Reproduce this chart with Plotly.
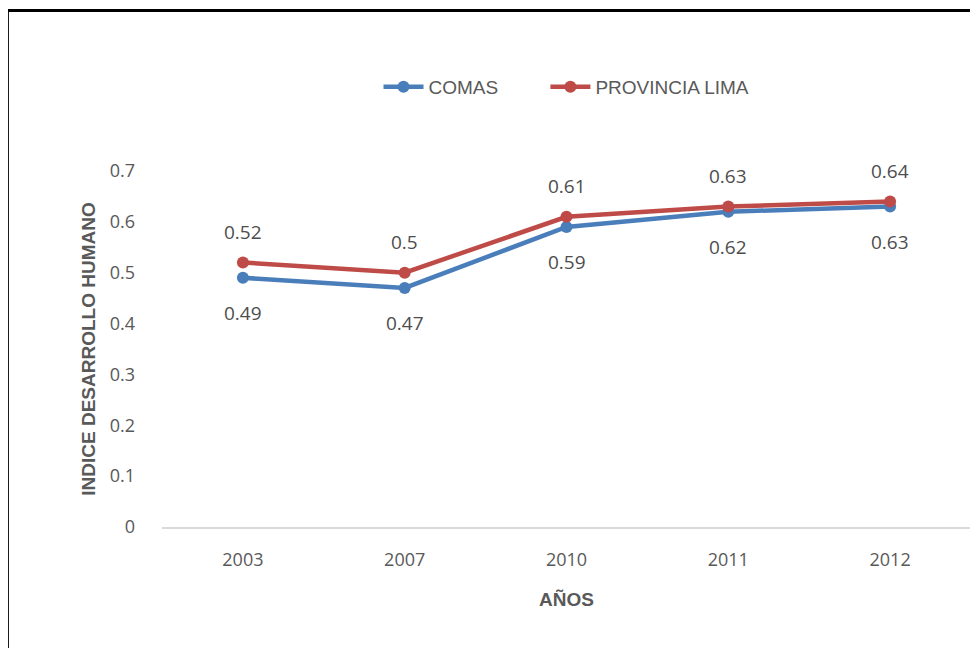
import plotly.graph_objects as go

years = ["2003", "2007", "2010", "2011", "2012"]
comas = [0.49, 0.47, 0.59, 0.62, 0.63]
lima = [0.52, 0.50, 0.61, 0.63, 0.64]
y_ticks = [0, 0.1, 0.2, 0.3, 0.4, 0.5, 0.6, 0.7]

tick_font = dict(family="Open Sans, Liberation Sans, sans-serif", size=18, color="#595959")
label_font = dict(family="Open Sans, Liberation Sans, sans-serif", size=19, color="#4d4d4d")
title_font = dict(family="Liberation Sans Narrow, Arial Narrow, Liberation Sans, sans-serif", size=19, color="#595959")

fig = go.Figure()
fig.add_trace(go.Scatter(
    x=years, y=comas, name="COMAS" + "\u00a0" * 8, mode="lines+markers",
    line=dict(color="#4a7ebb", width=4.5), marker=dict(size=12, color="#4a7ebb"),
    cliponaxis=False,
))
fig.add_trace(go.Scatter(
    x=years, y=lima, name="PROVINCIA LIMA", mode="lines+markers",
    line=dict(color="#be4b48", width=4.5), marker=dict(size=12, color="#be4b48"),
    cliponaxis=False,
))

annotations = []
for i, v in enumerate(comas):
    annotations.append(dict(x=i, y=v, text=str(v), showarrow=False, yshift=-35,
                            font=label_font, xref="x", yref="y"))
for i, v in enumerate(lima):
    annotations.append(dict(x=i, y=v, text=str(v), showarrow=False, yshift=31,
                            font=label_font, xref="x", yref="y"))

fig.update_layout(
    width=970, height=640,
    margin=dict(l=154, r=7, t=163, b=121),
    paper_bgcolor="white", plot_bgcolor="white",
    showlegend=True,
    legend=dict(orientation="h", x=0.5, y=1.236, xanchor="center", yanchor="middle",
                font=dict(family="Liberation Sans Narrow, Arial Narrow, Liberation Sans, sans-serif",
                          size=19, color="#595959"),
                itemwidth=40),
    xaxis=dict(
        type="category", range=[-0.5, 4.5], showline=True, linecolor="#d9d9d9", linewidth=1.5,
        showgrid=False, zeroline=False, ticks="", tickfont=tick_font, ticklabelstandoff=16,
        title=dict(text="<b>AÑOS</b>", font=title_font, standoff=22),
    ),
    yaxis=dict(
        range=[0, 0.7], tickvals=y_ticks, ticktext=[str(v) for v in y_ticks],
        showgrid=False, zeroline=False, showline=False, ticks="",
        tickfont=tick_font, ticklabelstandoff=26,
        title=dict(text="<b>INDICE DESARROLLO HUMANO</b>", font=title_font, standoff=9),
    ),
    annotations=annotations,
    shapes=[
        dict(type="line", xref="paper", yref="paper", x0=-0.1911, x1=1.05, y0=1.451, y1=1.451,
             line=dict(color="black", width=3)),
        dict(type="line", xref="paper", yref="paper", x0=-0.1911, x1=-0.1911, y0=1.451, y1=-0.35,
             line=dict(color="black", width=3)),
    ],
)

fig.write_html("out.html")
